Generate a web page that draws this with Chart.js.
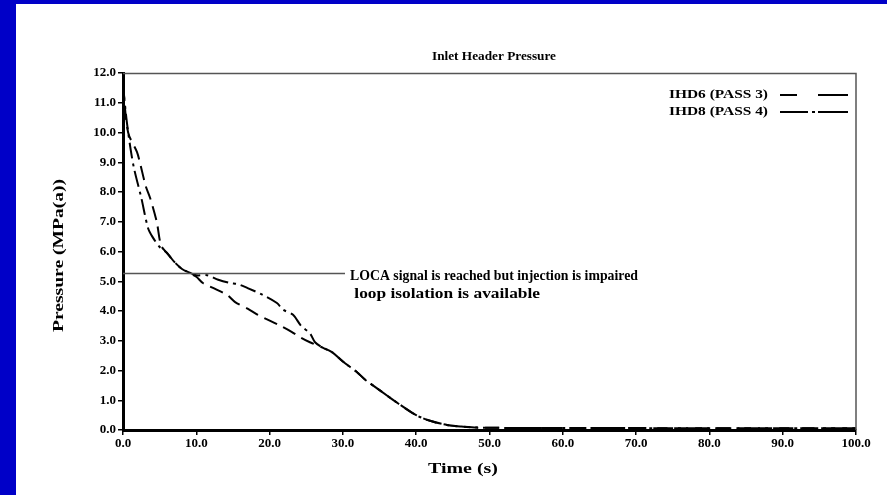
<!DOCTYPE html>
<html>
<head>
<meta charset="utf-8">
<script src="https://cdn.jsdelivr.net/npm/chart.js@4/dist/chart.umd.min.js"></script>
<style>
  html, body { margin: 0; padding: 0; background: #fff; }
  #wrap { position: relative; width: 887px; height: 495px; }
</style>
</head>
<body>
<div id="wrap"><canvas id="chart" width="887" height="495"></canvas></div>
<script>
// Inlet header pressure vs time
const ihd6Time = [0, 0.7, 1.9, 2.3, 3.1, 3.7, 4.6, 5.2, 6, 7, 8, 9, 10, 10.9, 12.5, 14.2, 15.3, 17, 18.4, 19.8, 21.5, 23, 24.1, 25.5, 27.3,
  28.5, 30, 31.9, 33, 35, 37.5, 40, 42, 44.2, 46, 48.3, 55, 65, 75, 85, 95, 100];
const ihd6Pressure = [11.6, 10.0, 9.35, 9.0, 8.2, 7.8, 7.0, 6.2, 5.95, 5.65, 5.42, 5.28, 5.15, 4.94, 4.75, 4.54, 4.3, 4.08, 3.87, 3.7, 3.5, 3.3, 3.13, 2.95, 2.76,
  2.62, 2.3, 1.95, 1.7, 1.34, 0.9, 0.5, 0.3, 0.17, 0.12, 0.08, 0.07, 0.07, 0.06, 0.06, 0.06, 0.06];

const ihd8Time = [0, 0.5, 1.0, 1.5, 2.5, 3.4, 4.0, 5.0, 6, 7, 8, 9, 10, 11.5, 13, 14.6, 15.7, 17, 19, 21, 21.8, 23.2, 24.3, 25.5, 26.2, 27.3,
  28.5, 30, 31.9, 33, 35, 37.5, 40, 42, 44.2, 46, 48.3, 55, 65, 75, 85, 95, 100];
const ihd8Pressure = [11.6, 10.4, 9.5, 8.8, 7.8, 6.8, 6.5, 6.15, 5.95, 5.65, 5.42, 5.3, 5.2, 5.2, 5.05, 4.94, 4.9, 4.77, 4.55, 4.27, 4.05, 3.87, 3.5, 3.25, 2.95, 2.76,
  2.62, 2.3, 1.95, 1.7, 1.34, 0.9, 0.5, 0.3, 0.17, 0.12, 0.08, 0.07, 0.07, 0.06, 0.06, 0.06, 0.06];

const seriesLabels = ['IHD6 (PASS 3)', 'IHD8 (PASS 4)'];
const locaPressure = 5.28;
const locaText = ['LOCA signal is reached but injection is impaired', ' loop isolation is available'];

const SERIF = '"Liberation Serif", "DejaVu Serif", serif';

function toPoints(xs, ys) {
  return xs.map((x, i) => ({ x: x, y: ys[i] }));
}

// draw text stretched/squeezed to a given width, starting at x (left edge)
function fitText(c, text, x, y, width) {
  const w = c.measureText(text).width;
  c.save();
  c.translate(x, y);
  c.scale(width / w, 1);
  c.textAlign = 'left';
  c.fillText(text, 0, 0);
  c.restore();
}

// frame, title, axis titles, LOCA marker and legend
const decorations = {
  id: 'decorations',
  beforeDraw(chart) {
    const c = chart.ctx;
    c.save();
    c.fillStyle = '#0000c8';
    c.fillRect(0, 0, 887, 4);
    c.fillRect(0, 0, 16, 495);
    c.restore();
  },
  afterDatasetsDraw(chart) {
    const c = chart.ctx;
    const a = chart.chartArea;
    const ys = chart.scales.y;
    c.save();

    // thin frame top / right
    c.strokeStyle = '#555';
    c.lineWidth = 1.5;
    c.beginPath();
    c.moveTo(a.left, a.top + 0.5);
    c.lineTo(a.right, a.top + 0.5);
    c.lineTo(a.right, a.bottom);
    c.stroke();

    // LOCA line
    const ly = Math.round(ys.getPixelForValue(locaPressure)) + 0.5;
    c.beginPath();
    c.moveTo(a.left, ly);
    c.lineTo(345, ly);
    c.stroke();

    c.fillStyle = '#000';
    c.textBaseline = 'middle';
    c.font = 'bold 14px ' + SERIF;
    fitText(c, locaText[0], 350, ly + 3, 288);
    fitText(c, locaText[1], 350, ly + 21, 190);

    // title
    c.font = 'bold 13px ' + SERIF;
    fitText(c, 'Inlet Header Pressure', 432, 57, 124);

    // axis titles
    c.font = 'bold 14px ' + SERIF;
    fitText(c, 'Time (s)', 428, 469, 70);
    c.save();
    c.translate(59, 256);
    c.rotate(-Math.PI / 2);
    fitText(c, 'Pressure (MPa(a))', -76, 0, 153);
    c.restore();

    // legend
    const legendDash = [[17, 21, 30, 0], [28, 4, 3, 3, 30, 0]];
    c.font = 'bold 12px ' + SERIF;
    chart.data.datasets.forEach((ds, i) => {
      const y = 95 + i * 17;
      fitText(c, ds.label, 669, y, 99);
      c.strokeStyle = '#000';
      c.lineWidth = 2;
      c.setLineDash(legendDash[i]);
      c.beginPath();
      c.moveTo(780, y);
      c.lineTo(848, y);
      c.stroke();
    });
    c.restore();
  }
};

const ctx = document.getElementById('chart').getContext('2d');
new Chart(ctx, {
  type: 'line',
  data: {
    datasets: [
      {
        label: seriesLabels[0],
        data: toPoints(ihd6Time, ihd6Pressure),
        borderColor: '#000',
        borderWidth: 2,
        borderDash: [14, 7],
        pointRadius: 0,
        tension: 0.3,
        fill: false
      },
      {
        label: seriesLabels[1],
        data: toPoints(ihd8Time, ihd8Pressure),
        borderColor: '#000',
        borderWidth: 2,
        borderDash: [16, 5, 3, 5],
        pointRadius: 0,
        tension: 0.3,
        fill: false
      }
    ]
  },
  options: {
    responsive: false,
    animation: false,
    layout: { padding: { top: 73, right: 31, left: 0, bottom: 0 } },
    plugins: {
      legend: { display: false },
      tooltip: { enabled: false }
    },
    scales: {
      x: {
        type: 'linear',
        min: 0,
        max: 100,
        afterFit: s => { s.height = 65; },
        border: { display: true, color: '#000', width: 3 },
        grid: { drawOnChartArea: false, drawTicks: true, tickLength: 5, color: '#000', lineWidth: 1.5 },
        ticks: {
          stepSize: 10,
          padding: 1,
          color: '#000',
          font: { family: SERIF, size: 13, weight: 'bold' },
          maxRotation: 0,
          callback: v => v.toFixed(1)
        }
      },
      y: {
        min: 0,
        max: 12,
        afterFit: s => { s.width = 123; },
        border: { display: true, color: '#000', width: 3 },
        grid: { drawOnChartArea: false, drawTicks: true, tickLength: 5, color: '#000', lineWidth: 1.5 },
        ticks: {
          stepSize: 1,
          padding: 2,
          color: '#000',
          font: { family: SERIF, size: 13, weight: 'bold' },
          callback: v => v.toFixed(1)
        }
      }
    }
  },
  plugins: [decorations]
});
</script>
</body>
</html>
